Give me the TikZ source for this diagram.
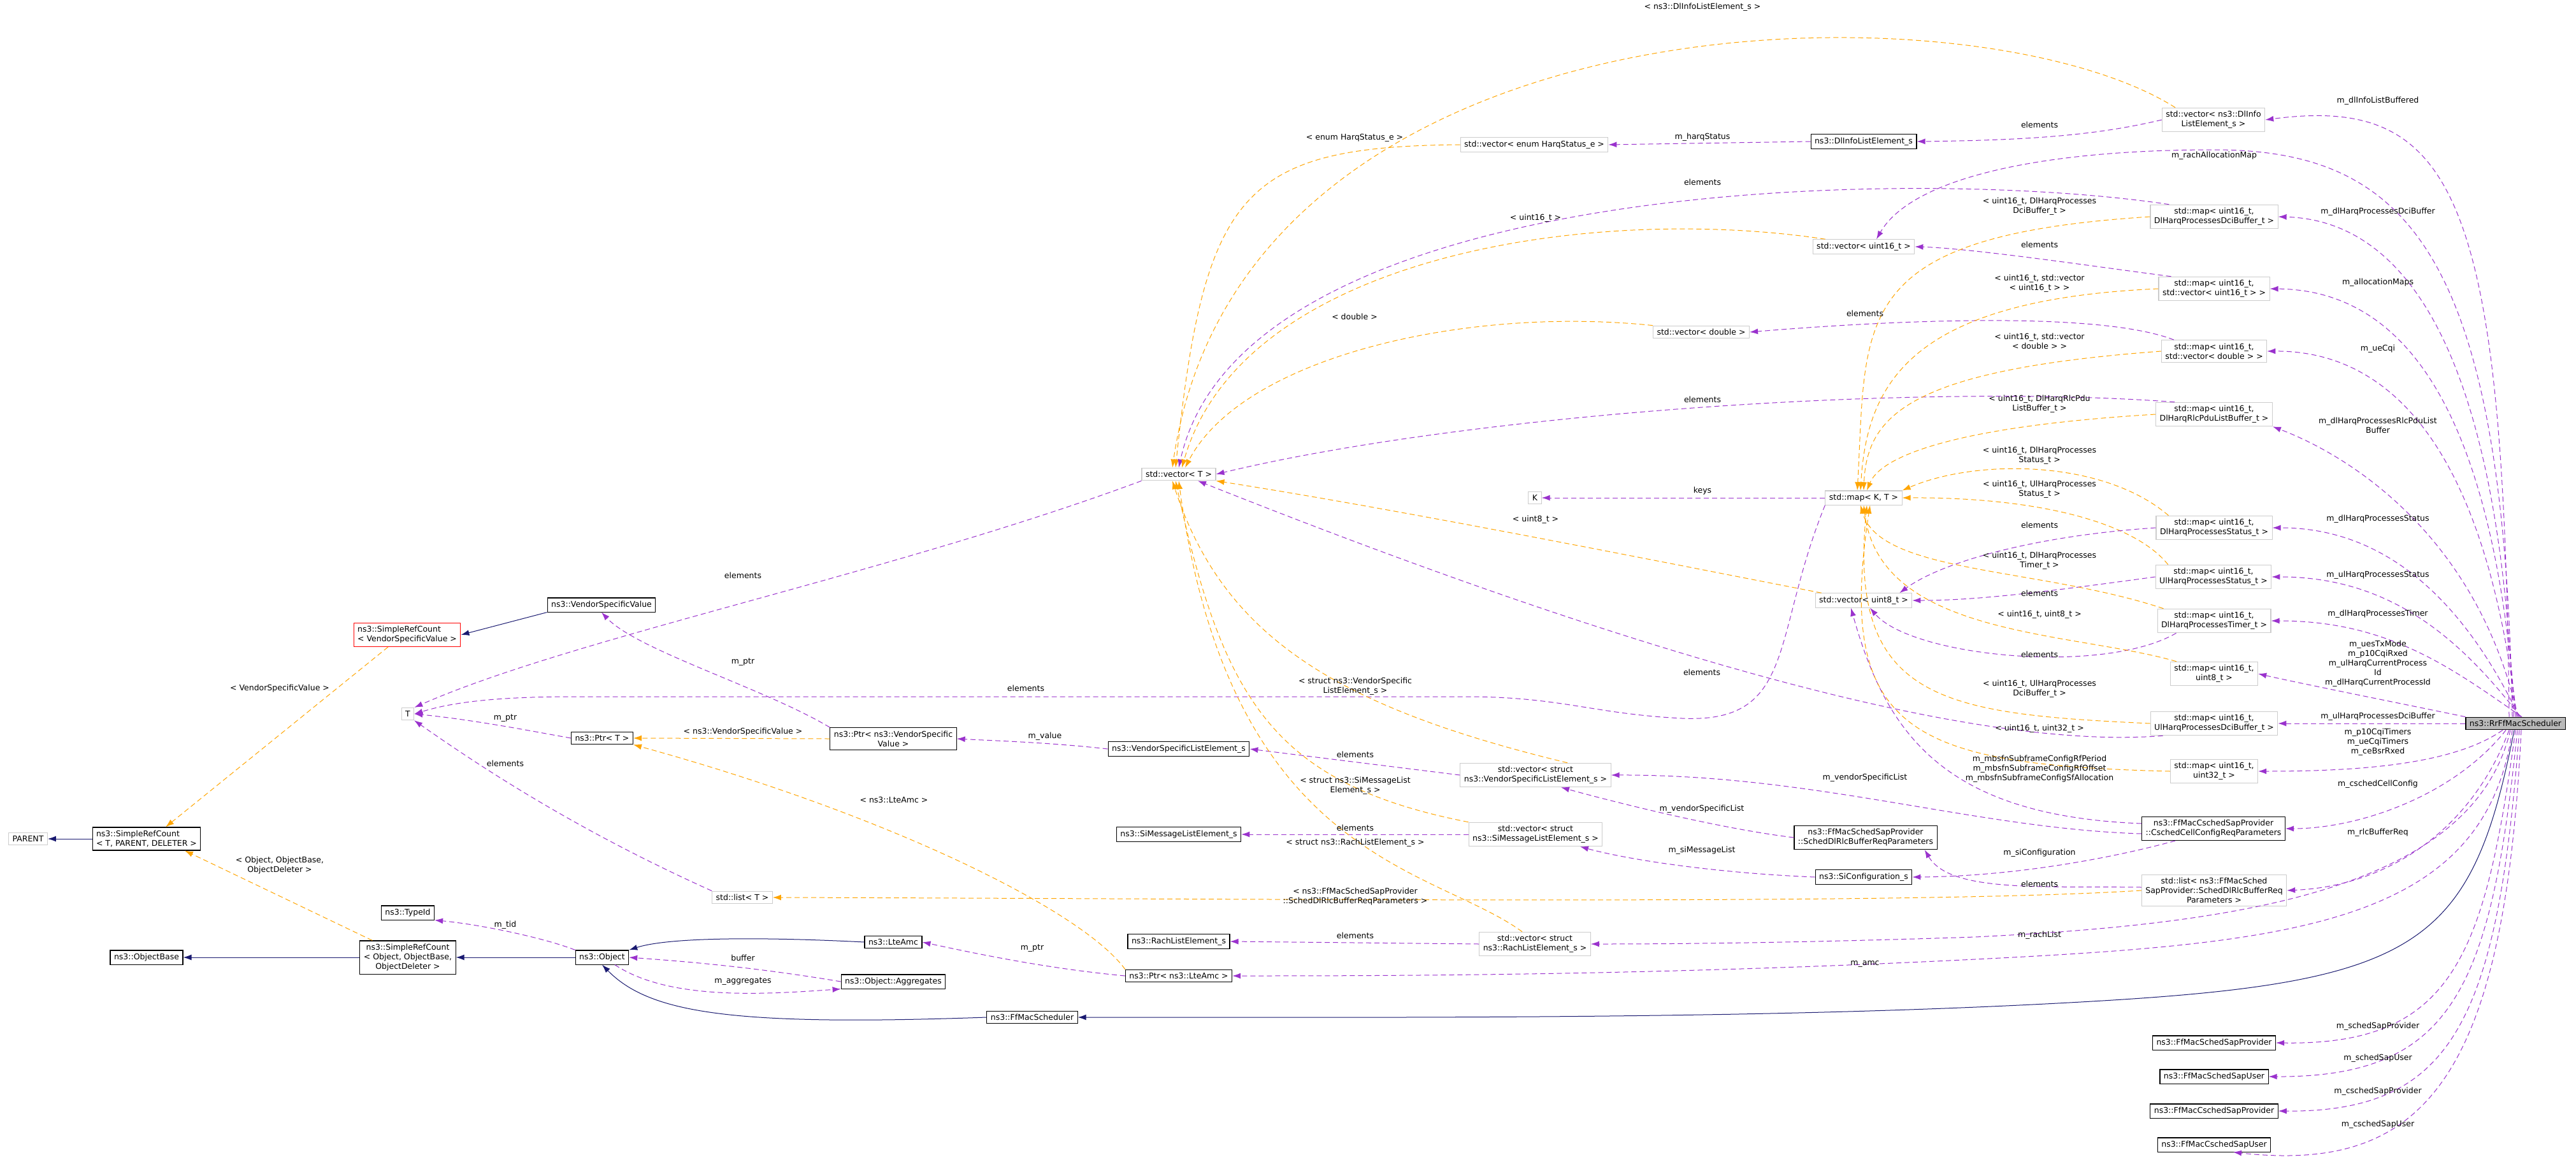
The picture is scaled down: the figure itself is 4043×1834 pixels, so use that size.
\documentclass[tikz,border=0pt]{standalone}
\usepackage{fontspec}
\setmainfont{DejaVu Sans}
\usetikzlibrary{arrows.meta,calc}
\definecolor{pur}{HTML}{9A32CD}
\definecolor{org}{HTML}{FFA500}
\definecolor{nav}{HTML}{191970}
\newcommand{\fnt}{\fontsize{12.5}{15}\selectfont}
\tikzset{
 b/.style={draw=black, line width=1.1pt, fill=white, inner xsep=6pt, inner ysep=5pt, align=center, font=\fnt},
 g/.style={b, draw=gray!40},
 rb/.style={b, draw=red},
 gs/.style={b, fill=gray!55},
 mem/.style={draw=pur, dash pattern=on 8pt off 5pt, line width=1pt, -{Latex[length=13pt,width=9pt]}},
 tpl/.style={mem, draw=org},
 inh/.style={draw=nav, line width=1pt, -{Latex[length=13pt,width=9pt]}},
 lb/.style={font=\fnt, align=center, inner sep=1pt}
}
\begin{document}
\begin{tikzpicture}[x=1pt,y=-1pt]
\path[use as bounding box, fill=white] (0,0) rectangle (4043,1834);
% nodes
\node[gs] (S) at (3948,1135) {ns3::RrFfMacScheduler};
\node[g] (vdl) at (3474,188) {std::vector< ns3::DlInfo\\ListElement\_s >};
\node[b] (dle) at (2925,222) {ns3::DlInfoListElement\_s};
\node[g] (venum) at (2408,227) {std::vector< enum HarqStatus\_e >};
\node[g] (mdci) at (3475,340) {std::map< uint16\_t,\\ DlHarqProcessesDciBuffer\_t >};
\node[g] (vu16) at (2925,387) {std::vector< uint16\_t >};
\node[g] (malloc) at (3475,453) {std::map< uint16\_t,\\ std::vector< uint16\_t > >};
\node[g] (vdbl) at (2670,521) {std::vector< double >};
\node[g] (mdbl) at (3475,551) {std::map< uint16\_t,\\ std::vector< double > >};
\node[g] (mrlc) at (3475,650) {std::map< uint16\_t,\\ DlHarqRlcPduListBuffer\_t >};
\node[g] (vT) at (1850,744) {std::vector< T >};
\node[g] (K) at (2409,781) {K};
\node[g] (mKT) at (2925,781) {std::map< K, T >};
\node[g] (mdst) at (3475,828) {std::map< uint16\_t,\\ DlHarqProcessesStatus\_t >};
\node[g] (mulst) at (3474,905) {std::map< uint16\_t,\\ UlHarqProcessesStatus\_t >};
\node[g] (vu8) at (2925,942) {std::vector< uint8\_t >};
\node[g] (mtim) at (3475,974) {std::map< uint16\_t,\\ DlHarqProcessesTimer\_t >};
\node[g] (mu8) at (3475,1057) {std::map< uint16\_t,\\ uint8\_t >};
\node[g] (muldci) at (3475,1135) {std::map< uint16\_t,\\ UlHarqProcessesDciBuffer\_t >};
\node[g] (mu32) at (3475,1210) {std::map< uint16\_t,\\ uint32\_t >};
\node[b] (csp) at (3474,1300) {ns3::FfMacCschedSapProvider\\::CschedCellConfigReqParameters};
\node[b] (sdr) at (2928,1314) {ns3::FfMacSchedSapProvider\\::SchedDlRlcBufferReqParameters};
\node[b] (sic) at (2925,1376) {ns3::SiConfiguration\_s};
\node[g] (lst) at (3475,1397) {std::list< ns3::FfMacSched\\SapProvider::SchedDlRlcBufferReq\\Parameters >};
\node[b] (vsle) at (1850,1175) {ns3::VendorSpecificListElement\_s};
\node[g] (vvs) at (2410,1216) {std::vector< struct\\ ns3::VendorSpecificListElement\_s >};
\node[b] (simsg) at (1850,1309) {ns3::SiMessageListElement\_s};
\node[g] (vsi) at (2410,1309) {std::vector< struct\\ ns3::SiMessageListElement\_s >};
\node[b] (rachle) at (1850,1477) {ns3::RachListElement\_s};
\node[g] (vrach) at (2409,1481) {std::vector< struct\\ ns3::RachListElement\_s >};
\node[b] (plamc) at (1850,1531) {ns3::Ptr< ns3::LteAmc >};
\node[b] (ffms) at (1620,1596) {ns3::FfMacScheduler};
\node[b] (sap1) at (3475,1636) {ns3::FfMacSchedSapProvider};
\node[b] (sap2) at (3475,1689) {ns3::FfMacSchedSapUser};
\node[b] (sap3) at (3475,1743) {ns3::FfMacCschedSapProvider};
\node[b] (sap4) at (3475,1796) {ns3::FfMacCschedSapUser};
\node[b] (vsv) at (944,949) {ns3::VendorSpecificValue};
\node[rb, align=left] (srcvsv) at (639,996) {ns3::SimpleRefCount\\< VendorSpecificValue >};
\node[g] (T) at (640,1120) {T};
\node[b] (pT) at (945,1158) {ns3::Ptr< T >};
\node[b] (pvsv) at (1402,1159) {ns3::Ptr< ns3::VendorSpecific\\Value >};
\node[g] (listT) at (1165,1408) {std::list< T >};
\node[b] (typeid) at (640,1432) {ns3::TypeId};
\node[b] (objbase) at (230,1502) {ns3::ObjectBase};
\node[b] (srcobj) at (640,1502) {ns3::SimpleRefCount\\< Object, ObjectBase,\\ObjectDeleter >};
\node[b] (obj) at (945,1502) {ns3::Object};
\node[b] (lteamc) at (1402,1478) {ns3::LteAmc};
\node[b] (agg) at (1402,1540) {ns3::Object::Aggregates};
\node[g] (parent) at (44,1316) {PARENT};
\node[b, align=left] (srcT) at (230,1316) {ns3::SimpleRefCount\\< T, PARENT, DELETER >};

% scheduler members
\draw[mem] ($(S.north)+(-10,0)$) .. controls (3930,300) and (3850,150) .. (vdl.east);
\draw[mem] ($(S.north)+(-5,0)$) .. controls (3930,400) and (3780,235) .. (3475,235) .. controls (3200,235) and (3000,280) .. ($(vu16.north)+(20,0)$);
\draw[mem] ($(S.north)+(-3,0)$) .. controls (3920,500) and (3750,345) .. (mdci.east);
\draw[mem] ($(S.north)+(0,0)$) .. controls (3910,600) and (3750,455) .. (malloc.east);
\draw[mem] ($(S.north)+(2,0)$) .. controls (3900,700) and (3750,550) .. (mdbl.east);
\draw[mem] ($(S.north)+(4,0)$) .. controls (3890,850) and (3700,720) .. (mrlc.south east);
\draw[mem] ($(S.north)+(6,0)$) .. controls (3870,950) and (3750,828) .. (mdst.east);
\draw[mem] ($(S.north)+(8,0)$) .. controls (3860,1000) and (3750,905) .. (mulst.east);
\draw[mem] ($(S.north)+(10,0)$) .. controls (3850,1050) and (3750,974) .. (mtim.east);
\draw[mem] (S.north west) .. controls (3750,1100) and (3600,1070) .. (mu8.east);
\draw[mem] (S.west) -- (muldci.east);
\draw[mem] ($(S.south)+(-20,0)$) .. controls (3850,1200) and (3700,1210) .. (mu32.east);
\draw[mem] ($(S.south)+(-15,0)$) .. controls (3850,1250) and (3700,1300) .. (csp.east);
\draw[mem] ($(S.south)+(-10,0)$) .. controls (3880,1300) and (3750,1390) .. (lst.east);
\draw[mem] ($(S.south)+(-8,0)$) .. controls (3880,1400) and (3500,1450) .. (3100,1470) .. controls (2800,1480) and (2600,1481) .. (vrach.east);
\draw[mem] ($(S.south)+(-5,0)$) .. controls (3900,1450) and (3600,1480) .. (3100,1505) .. controls (2600,1530) and (2200,1531) .. (plamc.east);
\draw[inh] ($(S.south)+(-2,0)$) .. controls (3880,1480) and (3800,1540) .. (3300,1570) .. controls (2800,1600) and (2200,1596) .. (ffms.east);
\draw[mem] ($(S.south)+(0,0)$) .. controls (3900,1500) and (3850,1640) .. (sap1.east);
\draw[mem] ($(S.south)+(3,0)$) .. controls (3910,1550) and (3850,1690) .. (sap2.east);
\draw[mem] ($(S.south)+(6,0)$) .. controls (3920,1600) and (3850,1745) .. (sap3.east);
\draw[mem] ($(S.south)+(9,0)$) .. controls (3930,1700) and (3800,1840) .. ($(sap4.south)+(30,0)$);
% csched params etc
\draw[mem] ($(csp.west)+(0,8)$) .. controls (3100,1300) and (2850,1215) .. (vvs.east);
\draw[mem] (sdr.west) .. controls (2700,1300) and (2540,1260) .. ($(vvs.south)+(40,0)$);
\draw[mem] (sic.west) .. controls (2700,1370) and (2560,1350) .. ($(vsi.south)+(70,0)$);
\draw[mem] ($(csp.south)+(-60,0)$) .. controls (3300,1350) and (3150,1375) .. (sic.east);
\draw[mem] ($(lst.west)+(0,-5)$) .. controls (3200,1390) and (3060,1400) .. ($(sdr.south east)+(-20,0)$);
\draw[mem] ($(csp.west)+(0,-8)$) .. controls (3050,1280) and (2960,1150) .. ($(vu8.south)+(-20,0)$);
% upper area
\draw[mem] (vdl.west) .. controls (3300,210) and (3200,220) .. (dle.east);
\draw[mem] (dle.west) -- (venum.east);
\draw[tpl] ($(vdl.north)+(-60,0)$) .. controls (3100,-30) and (1950,-20) .. ($(vT.north)+(-10,0)$);
\draw[tpl] (venum.west) .. controls (1950,230) and (1890,300) .. ($(vT.north)+(-5,0)$);
\draw[mem] ($(mdci.north west)+(30,0)$) .. controls (3000,260) and (1950,280) .. (vT.north);
\draw[tpl] ($(vu16.north west)+(20,0)$) .. controls (2500,320) and (1950,400) .. ($(vT.north)+(5,0)$);
\draw[tpl] (vdbl.north west) .. controls (2300,480) and (1950,560) .. ($(vT.north)+(10,0)$);
\draw[mem] ($(mrlc.north west)+(30,0)$) .. controls (3000,600) and (2300,650) .. (vT.east);
\draw[mem] ($(malloc.north west)+(20,0)$) .. controls (3300,420) and (3100,390) .. (vu16.east);
\draw[mem] ($(mdbl.north west)+(20,0)$) .. controls (3300,490) and (3000,500) .. (vdbl.east);
\draw[mem] (mKT.west) -- (K.east);
\draw[tpl] (mdci.west) .. controls (2900,370) and (2930,500) .. ($(mKT.north)+(-10,0)$);
\draw[tpl] (malloc.west) .. controls (3000,470) and (2930,600) .. ($(mKT.north)+(-5,0)$);
\draw[tpl] (mdbl.west) .. controls (3000,580) and (2930,650) .. ($(mKT.north)+(0,0)$);
\draw[tpl] (mrlc.west) .. controls (3050,670) and (2950,720) .. ($(mKT.north)+(5,0)$);
\draw[tpl] ($(mdst.north west)+(20,0)$) .. controls (3300,720) and (3100,720) .. (mKT.north east);
\draw[tpl] ($(mulst.north west)+(20,0)$) .. controls (3350,820) and (3200,780) .. (mKT.east);
\draw[mem] (mdst.west) .. controls (3200,840) and (3050,880) .. ($(vu8.north east)+(-20,0)$);
\draw[mem] (mulst.west) .. controls (3200,930) and (3100,942) .. (vu8.east);
\draw[tpl] ($(mtim.north west)+(10,0)$) .. controls (3200,890) and (2950,900) .. ($(mKT.south)+(-5,0)$);
\draw[mem] ($(mtim.south west)+(30,0)$) .. controls (3300,1060) and (3000,1030) .. ($(vu8.south)+(10,0)$);
\draw[tpl] ($(mu8.north west)+(10,0)$) .. controls (3250,990) and (2950,1000) .. ($(mKT.south)+(0,0)$);
\draw[tpl] (muldci.west) .. controls (3050,1120) and (2900,1100) .. ($(mKT.south)+(5,0)$);
\draw[tpl] (mu32.west) .. controls (3000,1200) and (2880,1150) .. ($(mKT.south)+(10,0)$);
\draw[mem] ($(muldci.south west)+(20,0)$) .. controls (3200,1170) and (2800,1120) .. ($(vT.south)+(30,0)$);
\draw[tpl] ($(vu8.north west)+(10,0)$) .. controls (2600,880) and (2200,800) .. (vT.south east);
\draw[mem] (mKT.south west) .. controls (2780,1000) and (2820,1135) .. (2640,1127) .. controls (2500,1120) and (2450,1093) .. (2300,1093) -- (900,1093) .. controls (760,1093) and (700,1105) .. (T.east);
\draw[mem] (vT.south west) .. controls (1400,900) and (900,1000) .. (T.north east);
% lower-middle
\draw[tpl] ($(vvs.north)+(50,0)$) .. controls (2100,1110) and (1920,1000) .. ($(vT.south)+(-10,0)$);
\draw[mem] (vvs.west) -- (vsle.east);
\draw[tpl] ($(vsi.north west)+(0,0)$) .. controls (2000,1230) and (1920,1100) .. ($(vT.south)+(-5,0)$);
\draw[mem] (vsi.west) -- (simsg.east);
\draw[tpl] ($(vrach.north)+(-20,0)$) .. controls (2250,1360) and (1930,1350) .. ($(vT.south)+(0,0)$);
\draw[mem] (vrach.west) -- (rachle.east);
\draw[mem] (plamc.west) .. controls (1650,1520) and (1550,1500) .. (lteamc.east);
\draw[tpl] ($(plamc.north west)+(0,0)$) .. controls (1700,1430) and (1400,1280) .. (pT.south east);
\draw[tpl] (lst.west) .. controls (3000,1420) and (2000,1410) .. (listT.east);
\draw[mem] (listT.north west) .. controls (900,1300) and (750,1200) .. ($(T.south)+(10,0)$);
\draw[mem] (vsle.west) .. controls (1650,1165) and (1560,1162) .. (pvsv.east);
\draw[mem] (pvsv.north west) .. controls (1200,1080) and (1000,1020) .. (vsv.south);
\draw[tpl] (pvsv.west) -- (pT.east);
\draw[mem] (pT.west) .. controls (850,1150) and (750,1130) .. (T.east);
% left
\draw[inh] (vsv.south west) -- (srcvsv.east);
\draw[tpl] ($(srcvsv.south)+(-30,0)$) -- ($(srcT.north)+(30,0)$);
\draw[inh] (srcT.west) -- (parent.east);
\draw[tpl] ($(srcobj.north west)+(20,0)$) -- ($(srcT.south)+(60,0)$);
\draw[inh] (srcobj.west) -- (objbase.east);
\draw[inh] (obj.west) -- (srcobj.east);
\draw[mem] ($(obj.north west)+(0,0)$) .. controls (850,1470) and (750,1450) .. (typeid.south east);
\draw[mem] (agg.west) .. controls (1200,1520) and (1100,1510) .. (obj.east);
\draw[mem] ($(obj.south)+(20,0)$) .. controls (1050,1570) and (1200,1560) .. (agg.south west);
\draw[inh] (lteamc.west) .. controls (1200,1470) and (1050,1470) .. (obj.north east);
\draw[inh] (ffms.west) .. controls (1150,1610) and (1020,1590) .. (obj.south);

% labels
\node[lb] at (2672,11) {< ns3::DlInfoListElement\_s >};
\node[lb] at (3732,158) {m\_dlInfoListBuffered};
\node[lb] at (3201,196) {elements};
\node[lb] at (2672,215) {m\_harqStatus};
\node[lb] at (2126,216) {< enum HarqStatus\_e >};
\node[lb] at (3475,244) {m\_rachAllocationMap};
\node[lb] at (2672,286) {elements};
\node[lb] at (3201,324) {< uint16\_t, DlHarqProcesses\\DciBuffer\_t >};
\node[lb] at (3732,332) {m\_dlHarqProcessesDciBuffer};
\node[lb] at (2410,342) {< uint16\_t >};
\node[lb] at (3201,384) {elements};
\node[lb] at (3201,445) {< uint16\_t, std::vector\\< uint16\_t > >};
\node[lb] at (3732,443) {m\_allocationMaps};
\node[lb] at (2927,492) {elements};
\node[lb] at (2126,497) {< double >};
\node[lb] at (3201,535) {< uint16\_t, std::vector\\< double > >};
\node[lb] at (3732,547) {m\_ueCqi};
\node[lb] at (2672,627) {elements};
\node[lb] at (3201,634) {< uint16\_t, DlHarqRlcPdu\\ListBuffer\_t >};
\node[lb] at (3732,667) {m\_dlHarqProcessesRlcPduList\\Buffer};
\node[lb] at (3201,715) {< uint16\_t, DlHarqProcesses\\Status\_t >};
\node[lb] at (2672,770) {keys};
\node[lb] at (3201,768) {< uint16\_t, UlHarqProcesses\\Status\_t >};
\node[lb] at (3201,824) {elements};
\node[lb] at (3732,814) {m\_dlHarqProcessesStatus};
\node[lb] at (2410,815) {< uint8\_t >};
\node[lb] at (3201,880) {< uint16\_t, DlHarqProcesses\\Timer\_t >};
\node[lb] at (3732,902) {m\_ulHarqProcessesStatus};
\node[lb] at (1166,903) {elements};
\node[lb] at (3201,931) {elements};
\node[lb] at (3201,964) {< uint16\_t, uint8\_t >};
\node[lb] at (3732,963) {m\_dlHarqProcessesTimer};
\node[lb] at (3201,1027) {elements};
\node[lb] at (3732,1041) {m\_uesTxMode\\m\_p10CqiRxed\\m\_ulHarqCurrentProcess\\Id\\m\_dlHarqCurrentProcessId};
\node[lb] at (1166,1039) {m\_ptr};
\node[lb] at (2671,1055) {elements};
\node[lb] at (2127,1077) {< struct ns3::VendorSpecific\\ListElement\_s >};
\node[lb] at (439,1080) {< VendorSpecificValue >};
\node[lb] at (1610,1080) {elements};
\node[lb] at (3201,1081) {< uint16\_t, UlHarqProcesses\\DciBuffer\_t >};
\node[lb] at (3732,1124) {m\_ulHarqProcessesDciBuffer};
\node[lb] at (793,1127) {m\_ptr};
\node[lb] at (3201,1143) {< uint16\_t, uint32\_t >};
\node[lb] at (1166,1148) {< ns3::VendorSpecificValue >};
\node[lb] at (1640,1155) {m\_value};
\node[lb] at (3732,1164) {m\_p10CqiTimers\\m\_ueCqiTimers\\m\_ceBsrRxed};
\node[lb] at (2127,1184) {elements};
\node[lb] at (793,1198) {elements};
\node[lb] at (3201,1206) {m\_mbsfnSubframeConfigRfPeriod\\m\_mbsfnSubframeConfigRfOffset\\m\_mbsfnSubframeConfigSfAllocation};
\node[lb] at (2927,1220) {m\_vendorSpecificList};
\node[lb] at (3732,1230) {m\_cschedCellConfig};
\node[lb] at (2127,1233) {< struct ns3::SiMessageList\\Element\_s >};
\node[lb] at (1403,1255) {< ns3::LteAmc >};
\node[lb] at (2671,1269) {m\_vendorSpecificList};
\node[lb] at (2127,1299) {elements};
\node[lb] at (3732,1306) {m\_rlcBufferReq};
\node[lb] at (2127,1322) {< struct ns3::RachListElement\_s >};
\node[lb] at (2671,1334) {m\_siMessageList};
\node[lb] at (3201,1338) {m\_siConfiguration};
\node[lb] at (439,1358) {< Object, ObjectBase,\\ObjectDeleter >};
\node[lb] at (3201,1387) {elements};
\node[lb] at (2127,1407) {< ns3::FfMacSchedSapProvider\\::SchedDlRlcBufferReqParameters >};
\node[lb] at (793,1451) {m\_tid};
\node[lb] at (3201,1467) {m\_rachList};
\node[lb] at (2127,1468) {elements};
\node[lb] at (1620,1488) {m\_ptr};
\node[lb] at (1166,1503) {buffer};
\node[lb] at (2927,1512) {m\_amc};
\node[lb] at (1166,1540) {m\_aggregates};
\node[lb] at (3732,1610) {m\_schedSapProvider};
\node[lb] at (3732,1660) {m\_schedSapUser};
\node[lb] at (3732,1712) {m\_cschedSapProvider};
\node[lb] at (3732,1764) {m\_cschedSapUser};
\end{tikzpicture}
\end{document}
